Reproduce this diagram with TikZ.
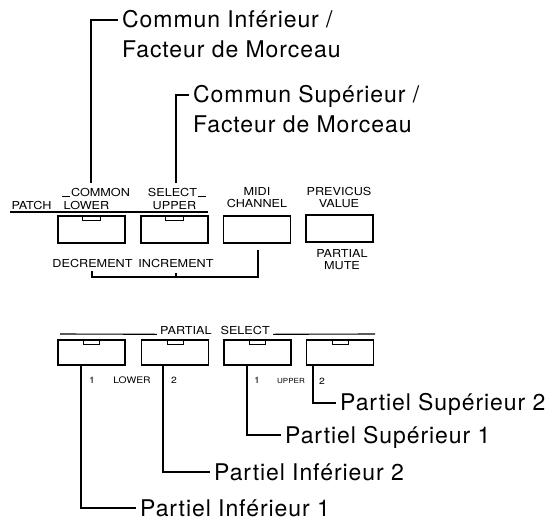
\documentclass[tikz,border=0pt]{standalone}
\usepackage{fontspec}
\setmainfont{TeX Gyre Heros}
\newfontfamily\callfont[LetterSpace=4]{TeX Gyre Heros}
\newfontfamily\lblfont[FakeStretch=1.15]{TeX Gyre Heros}
\begin{document}
\begin{tikzpicture}[x=1pt,y=-1pt,
  callout/.style={anchor=west,inner xsep=4pt,inner ysep=0pt,text height=16pt,text depth=0pt,
     font=\callfont\fontsize{23}{27}\selectfont},
  callnoline/.style={callout},
  lbl/.style={inner sep=0pt,text depth=0pt,font=\lblfont\fontsize{11}{11.5}\selectfont},
  lbltwo/.style={inner sep=0pt,align=center,font=\lblfont\fontsize{11}{12}\selectfont},
  tiny/.style={inner sep=0pt,text depth=0pt,font=\lblfont\fontsize{9}{10}\selectfont},
  btn/.style={draw,line width=1.3pt,minimum width=67pt,inner sep=0pt},
  topbtn/.style={btn,minimum height=27pt},
  lowbtn/.style={btn,minimum height=25pt},
  wire/.style={line width=1.1pt},
  tab/.style={line width=1pt}]
\useasboundingbox (0,0) rectangle (552,529);

% ---- top callouts
\node[callout] (ci1) at (118,20) {Commun Inférieur /};
\node[callout] (cf1) at (118,50) {Facteur de Morceau};
\node[callout] (cs1) at (189,95) {Commun Supérieur /};
\node[callout] (cf2) at (189,125) {Facteur de Morceau};

% ---- header labels
\node[lbl] (common) at (100.5,192) {COMMON};
\node[lbl] (select) at (172.5,192) {SELECT};
\node[lbl] (patch) at (31.5,205) {PATCH};
\node[lbl] (lowerl) at (86.5,205) {LOWER};
\node[lbl] (upperl) at (174.5,205) {UPPER};
\node[lbltwo] (midi) at (257,198) {MIDI\\CHANNEL};
\node[lbltwo] (prev) at (339,197) {PREVICUS\\VALUE};

\coordinate (e1) at (91,183);
\coordinate (e2) at (176,183);
\draw[wire] (ci1.west) -| (e1);
\draw[wire] (cs1.west) -| (e2);

\draw[wire] ([xshift=-1pt]common.south west) -- ++(-8,0);
\draw[wire] ([xshift=1pt]select.south east) -- ++(8,0);
\coordinate (ul1) at (10,212);
\coordinate (ul2) at (208,212);
\draw[wire] (ul1) -- (ul2);

% ---- top row buttons
\node[topbtn] (b1) at (91.5,229.5) {};
\node[topbtn] (b2) at (174.5,229.5) {};
\node[topbtn] (b3) at (257,229.5) {};
\node[topbtn] (b4) at (339.5,228.5) {};
\foreach \b in {b1,b2}{
  \draw[tab] ([xshift=-9pt]\b.north) rectangle ([xshift=9pt,yshift=-5pt]\b.north);
}

\node[lbl] (dec) at (92.5,263) {DECREMENT};
\node[lbl] (inc) at (176,263) {INCREMENT};
\node[lbltwo] (mute) at (342,259.5) {PARTIAL\\MUTE};

% bracket under DECREMENT / INCREMENT to MIDI CHANNEL
\coordinate (k1) at (92,271);
\coordinate (k2) at (92,277);
\coordinate (k3) at (258,250);
\draw[wire] (k1) -- (k2) -| (k3);
\draw[wire] (176,277) -- (176,273);

% ---- lower section
\node[lbl] (ps) at (215,330) {PARTIAL\hspace{9pt}SELECT};
\coordinate (h1) at (60,334);
\coordinate (h2) at (375,334);
\draw[wire] (ps.south west) ++(-3,0) -- (h1);
\draw[wire] (ps.south east) ++(3,0) -- (h2);

\node[lowbtn] (l1) at (91.5,352.5) {};
\node[lowbtn] (l2) at (175,352.5) {};
\node[lowbtn] (l3) at (257.5,352.5) {};
\node[lowbtn] (l4) at (340,352.5) {};
\foreach \b in {l1,l2,l3,l4}{
  \draw[tab] ([xshift=-8pt]\b.north) rectangle ([xshift=8pt,yshift=-5pt]\b.north);
}

\node[tiny] (n1) at (92,380) {1};
\node[tiny] (lw) at (132,380) {LOWER};
\node[tiny] (n2) at (174,380) {2};
\node[tiny] (n3) at (257,380) {1};
\node[inner sep=0pt,text depth=0pt,font=\lblfont\fontsize{7}{8}\selectfont] (up) at (291,381) {UPPER};
\node[tiny] (n4) at (322,381) {2};

\node[callout] (ps2) at (336,403) {Partiel Supérieur 2};
\node[callout] (ps1) at (281,435) {Partiel Supérieur 1};
\node[callout] (pi2) at (210,472) {Partiel Inférieur 2};
\node[callout] (pi1) at (136,508) {Partiel Inférieur 1};

\draw[wire] ([xshift=-27pt]l4.south) |- (ps2.west);
\draw[wire] ([xshift=-10.5pt]l3.south) |- (ps1.west);
\draw[wire] ([xshift=-12pt]l2.south) |- (pi2.west);
\draw[wire] ([xshift=-10.5pt]l1.south) |- (pi1.west);
\end{tikzpicture}
\end{document}
